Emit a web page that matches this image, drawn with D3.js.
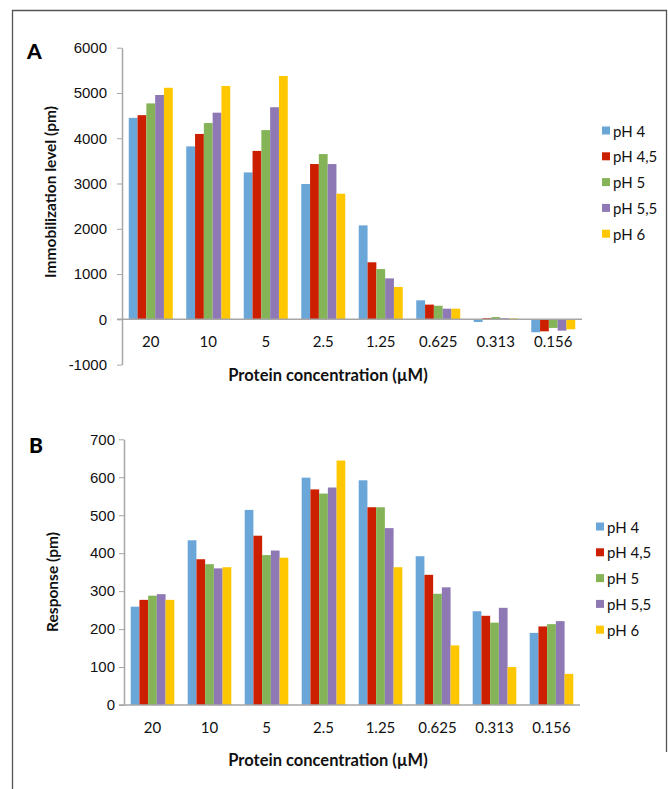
<!DOCTYPE html>
<html>
<head>
<meta charset="utf-8">
<script src="https://cdn.jsdelivr.net/npm/d3@7"></script>
<style>
  body { margin: 0; background: #fff; }
  svg { display: block; font-family: Lato, "Open Sans", sans-serif; }
  .axis path, .axis line { stroke: #a6a6a6; }
  .axis text { fill: #111; }
</style>
</head>
<body>
<div id="chart"></div>
<script>
var W = 668, H = 789;

// categories (protein concentration, uM)
var categories = ["20", "10", "5", "2.5", "1.25", "0.625", "0.313", "0.156"];
var seriesNames = ["pH 4", "pH 4,5", "pH 5", "pH 5,5", "pH 6"];
var colors = ["#6ba6d9", "#cc1f00", "#84b457", "#8f79b4", "#ffc700"];

// Panel A: immobilization level (pm)
var immobPH4  = [4450, 3820, 3245, 2990, 2075, 420, -60, -285];
var immobPH45 = [4510, 4095, 3720, 3430, 1260, 325, 25, -265];
var immobPH5  = [4770, 4335, 4180, 3650, 1110, 300, 50, -190];
var immobPH55 = [4955, 4565, 4685, 3430, 905, 235, 25, -250];
var immobPH6  = [5115, 5155, 5375, 2775, 715, 235, 20, -220];
var ticksA = [-1000, 0, 1000, 2000, 3000, 4000, 5000, 6000];

// Panel B: response (pm)
var respPH4  = [259, 434, 514, 599, 592, 392, 247, 190];
var respPH45 = [277, 384, 446, 568, 521, 343, 235, 207];
var respPH5  = [288, 371, 395, 557, 521, 293, 217, 213];
var respPH55 = [292, 360, 407, 573, 466, 310, 256, 221];
var respPH6  = [277, 363, 388, 644, 363, 157, 100, 82];
var ticksB = [0, 100, 200, 300, 400, 500, 600, 700];

var svg = d3.select("#chart").append("svg")
  .attr("width", W)
  .attr("height", H);

// frame
svg.append("path")
  .attr("d", "M12.5,789 L12.5,10.5 L666.5,10.5 L666.5,752")
  .attr("fill", "none")
  .attr("stroke", "#555")
  .attr("stroke-width", 1.3);

function drawPanel(cfg) {
  var g = svg.append("g");

  var x0 = d3.scaleBand()
    .domain(categories)
    .range([cfg.left, cfg.right])
    .paddingInner(0.235)
    .paddingOuter(0.1175);

  var x1 = d3.scaleBand()
    .domain(seriesNames)
    .range([0, x0.bandwidth()]);

  var y = d3.scaleLinear()
    .domain(cfg.domain)
    .range([cfg.bottom, cfg.top]);

  // bars
  var groups = g.selectAll(".grp")
    .data(categories)
    .enter().append("g")
    .attr("transform", function(d) { return "translate(" + x0(d) + ",0)"; });

  groups.selectAll("rect")
    .data(function(d, i) {
      return seriesNames.map(function(s, j) { return {s: s, j: j, v: cfg.values[j][i]}; });
    })
    .enter().append("rect")
    .attr("x", function(d) { return x1(d.s); })
    .attr("width", x1.bandwidth())
    .attr("y", function(d) { return y(Math.max(0, d.v)); })
    .attr("height", function(d) { return Math.abs(y(d.v) - y(0)); })
    .attr("fill", function(d) { return colors[d.j]; });

  // y axis
  var yAxis = g.append("g")
    .attr("class", "axis")
    .attr("transform", "translate(" + cfg.left + ",0)")
    .call(d3.axisLeft(y)
      .tickValues(cfg.ticks)
      .tickFormat(function(d) { return String(d); })
      .tickSize(5).tickSizeOuter(0).tickPadding(cfg.tickPad));
  yAxis.selectAll("text").attr("font-size", "15px");
  yAxis.select(".domain").attr("stroke-width", 1.5);

  // x axis line at zero
  g.append("line")
    .attr("x1", cfg.left - 5)
    .attr("x2", cfg.right)
    .attr("y1", y(0))
    .attr("y2", y(0))
    .attr("stroke", "#a6a6a6")
    .attr("stroke-width", 1.5);

  // category labels
  g.selectAll(".cat")
    .data(categories)
    .enter().append("text")
    .attr("x", function(d) { return x0(d) + x0.bandwidth() / 2; })
    .attr("y", cfg.catY)
    .attr("text-anchor", "middle")
    .attr("font-size", "15px")
    .attr("fill", "#111")
    .text(function(d) { return d; });

  // axis titles
  g.append("text")
    .attr("x", 328)
    .attr("y", cfg.xTitleY)
    .attr("text-anchor", "middle")
    .attr("font-size", "16.5px")
    .attr("font-weight", "bold")
    .attr("fill", "#111")
    .text("Protein concentration (\u00b5M)");

  g.append("text")
    .attr("transform", "translate(" + cfg.yTitleX + "," + cfg.yTitleY + ") rotate(-90)")
    .attr("text-anchor", "middle")
    .attr("font-size", "15.5px")
    .attr("font-weight", "bold")
    .attr("fill", "#111")
    .text(cfg.yTitle);

  // panel letter
  g.append("text")
    .attr("x", cfg.letterX)
    .attr("y", cfg.letterY)
    .attr("font-size", "21px")
    .attr("font-weight", "900")
    .attr("fill", "#000")
    .text(cfg.letter);

  // legend
  var legend = g.selectAll(".leg")
    .data(seriesNames)
    .enter().append("g")
    .attr("transform", function(d, i) { return "translate(" + cfg.legX + "," + (cfg.legY + i * 25.8) + ")"; });
  legend.append("rect")
    .attr("x", 0)
    .attr("y", -4.5)
    .attr("width", 8)
    .attr("height", 8)
    .attr("fill", function(d, i) { return colors[i]; });
  legend.append("text")
    .attr("x", 11)
    .attr("y", 5.5)
    .attr("font-size", "15px")
    .attr("fill", "#111")
    .text(function(d) { return d; });
}

drawPanel({
  letter: "A", letterX: 27, letterY: 59,
  left: 122, right: 582, top: 47.7, bottom: 364.6,
  domain: [-1000, 6000], ticks: ticksA, tickPad: 10,
  values: [immobPH4, immobPH45, immobPH5, immobPH55, immobPH6],
  catY: 347, xTitleY: 381,
  yTitle: "Immobilization level (pm)", yTitleX: 56, yTitleY: 192,
  legX: 602, legY: 131
});

drawPanel({
  letter: "B", letterX: 29, letterY: 453,
  left: 124, right: 580, top: 439.3, bottom: 705,
  domain: [0, 700], ticks: ticksB, tickPad: 4,
  values: [respPH4, respPH45, respPH5, respPH55, respPH6],
  catY: 733, xTitleY: 766,
  yTitle: "Response (pm)", yTitleX: 58, yTitleY: 582,
  legX: 596, legY: 527
});
</script>
</body>
</html>
